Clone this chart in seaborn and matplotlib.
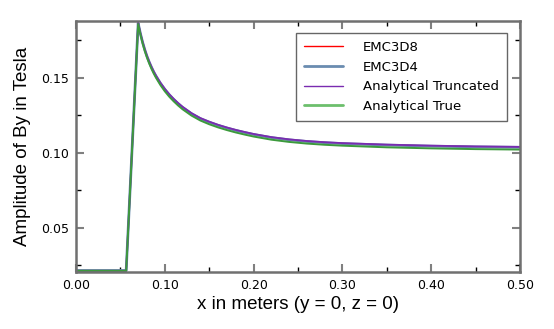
import numpy as np
import pandas as pd
import matplotlib
matplotlib.use("Agg")
import matplotlib.pyplot as plt
import seaborn as sns
from matplotlib.ticker import MultipleLocator, FormatStrFormatter
from matplotlib.lines import Line2D

x_m = [0.000, 0.010, 0.020, 0.030, 0.040, 0.050, 0.0565, 0.0700, 0.0725, 0.0750, 0.0775,
       0.0800, 0.0825, 0.0850, 0.0875, 0.0900, 0.0950, 0.1000, 0.1050, 0.1100, 0.1150,
       0.1200, 0.1300, 0.1400, 0.1500, 0.1600, 0.1700, 0.1800, 0.1900, 0.2000, 0.2200,
       0.2400, 0.2600, 0.2800, 0.3000, 0.3500, 0.4000, 0.4500, 0.5000]

emc3d8 = [0.0215, 0.0215, 0.0215, 0.0215, 0.0215, 0.0215, 0.0215,
          0.1866, 0.1798, 0.1739, 0.1688, 0.1644, 0.1606, 0.1572, 0.1541, 0.1514, 0.1466,
          0.1425, 0.1389, 0.1358, 0.1330, 0.1305, 0.1263, 0.1230, 0.1206, 0.1185, 0.1167,
          0.1151, 0.1137, 0.1124, 0.1103, 0.1088, 0.1077, 0.1069, 0.1063, 0.1053, 0.1046,
          0.1041, 0.1038]
emc3d4 = [0.0215, 0.0215, 0.0215, 0.0215, 0.0215, 0.0215, 0.0215,
          0.1865, 0.1797, 0.1738, 0.1687, 0.1643, 0.1605, 0.1571, 0.1540, 0.1513, 0.1465,
          0.1424, 0.1388, 0.1357, 0.1329, 0.1304, 0.1262, 0.1229, 0.1205, 0.1184, 0.1166,
          0.1150, 0.1136, 0.1123, 0.1102, 0.1087, 0.1076, 0.1068, 0.1062, 0.1052, 0.1045,
          0.1040, 0.1037]
analytical_trunc = [0.0213, 0.0213, 0.0213, 0.0213, 0.0213, 0.0213, 0.0213,
                    0.1868, 0.1800, 0.1741, 0.1690, 0.1646, 0.1608, 0.1574, 0.1543, 0.1516, 0.1468,
                    0.1427, 0.1391, 0.1360, 0.1332, 0.1307, 0.1265, 0.1232, 0.1208, 0.1187, 0.1169,
                    0.1153, 0.1139, 0.1126, 0.1105, 0.1090, 0.1079, 0.1071, 0.1065, 0.1055, 0.1048,
                    0.1043, 0.1040]
analytical_true = [0.0213, 0.0213, 0.0213, 0.0213, 0.0213, 0.0213, 0.0213,
                   0.1860, 0.1791, 0.1731, 0.1679, 0.1635, 0.1596, 0.1561, 0.1530, 0.1502, 0.1453,
                   0.1411, 0.1375, 0.1344, 0.1316, 0.1291, 0.1249, 0.1216, 0.1191, 0.1170, 0.1152,
                   0.1136, 0.1122, 0.1109, 0.1088, 0.1073, 0.1062, 0.1054, 0.1048, 0.1037, 0.1030,
                   0.1025, 0.1022]

series_names = ["EMC3D8", "EMC3D4", "Analytical Truncated", "Analytical True"]
series_vals = [emc3d8, emc3d4, analytical_trunc, analytical_true]
colors = ["#ff0000", "#6a8cb0", "#7a2bb0", "#6cbf6c"]
plot_colors = ["#ff0000", "#6a8cb0", "#7a2bb0", "#3c9a3c"]
widths = [1.0, 2.0, 1.3, 1.4]

rows = []
for name, vals in zip(series_names, series_vals):
    for xv, yv in zip(x_m, vals):
        rows.append({"x": xv, "y": yv, "series": name})
df = pd.DataFrame(rows)

sns.set_style("white")
plt.rcParams['font.family'] = ['DejaVu Sans']
plt.rcParams['text.color'] = 'black'
plt.rcParams['axes.labelcolor'] = 'black'
plt.rcParams['xtick.color'] = 'black'
plt.rcParams['ytick.color'] = 'black'

fig = plt.figure(figsize=(5.54, 3.29), dpi=100)
ax = fig.add_axes([76/554, 1-272/329, 444/554, 251/329])

for name, c, lw in zip(series_names, plot_colors, widths):
    sns.lineplot(data=df[df["series"] == name], x="x", y="y", ax=ax,
                 color=c, linewidth=lw, estimator=None, sort=False)

ax.set_xlim(0, 0.5)
ax.set_ylim(0.0205, 0.188)
ax.xaxis.set_major_locator(MultipleLocator(0.1))
ax.xaxis.set_minor_locator(MultipleLocator(0.05))
ax.yaxis.set_major_locator(MultipleLocator(0.05))
ax.yaxis.set_minor_locator(MultipleLocator(0.025))
ax.xaxis.set_major_formatter(FormatStrFormatter('%.2f'))
ax.yaxis.set_major_formatter(FormatStrFormatter('%.2f'))

ax.tick_params(which='both', bottom=True, left=True, top=True, right=True, direction='in',
               labelcolor='black')
ax.tick_params(which='major', length=6, width=1.5, color='#808080', labelsize=9, pad=5)
ax.tick_params(which='minor', length=3.5, width=1, color='black')
for s in ax.spines.values():
    s.set_color('#707070')
    s.set_linewidth(1.8)
    s.set_visible(True)

ax.set_xlabel("x in meters (y = 0, z = 0)", fontsize=13.5, family=['Liberation Sans'],
              labelpad=3, color='black')
ax.set_ylabel("Amplitude of By in Tesla", fontsize=13.5, family=['Liberation Sans'],
              labelpad=7, color='black')

handles = [Line2D([], [], color=c, linewidth=lw) for c, lw in zip(colors, [1.0, 2.0, 1.0, 2.0])]
leg = ax.legend(handles, series_names, loc='upper right', bbox_to_anchor=(0.971, 0.952),
                borderaxespad=0, fontsize=9.5, handlelength=3.0, handletextpad=1.5,
                labelspacing=0.5, borderpad=0.6, fancybox=False, frameon=True)
leg.get_frame().set_edgecolor('#404040')
leg.get_frame().set_linewidth(1.0)

fig.savefig("out.png", dpi=100)
